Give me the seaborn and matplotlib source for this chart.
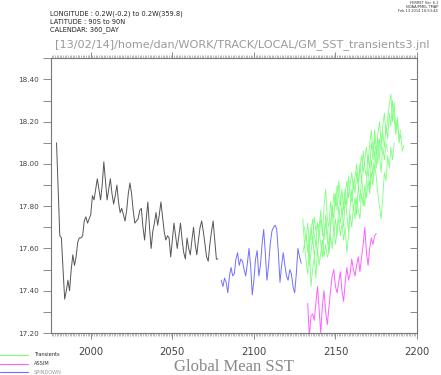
import numpy as np
import pandas as pd
import matplotlib
matplotlib.use("Agg")
import matplotlib.pyplot as plt
from matplotlib.ticker import MultipleLocator, FormatStrFormatter
import seaborn as sns

# ---------------- data ----------------
control_start = 1979
control_vals = [18.10, 17.88, 17.66, 17.65, 17.50, 17.36, 17.40, 17.45, 17.40, 17.50,
                17.57, 17.52, 17.56, 17.63, 17.65, 17.65, 17.66, 17.73, 17.75, 17.72,
                17.74, 17.76, 17.85, 17.83, 17.88, 17.93, 17.88, 17.83, 17.90, 18.01,
                17.92, 17.83, 17.88, 17.93, 17.86, 17.81, 17.85, 17.90, 17.82, 17.77,
                17.79, 17.76, 17.73, 17.78, 17.86, 17.91, 17.86, 17.78, 17.72, 17.73,
                17.74, 17.78, 17.79, 17.70, 17.64, 17.74, 17.82, 17.70, 17.60, 17.68,
                17.72, 17.77, 17.71, 17.76, 17.82, 17.75, 17.68, 17.64, 17.66, 17.65,
                17.56, 17.64, 17.72, 17.66, 17.60, 17.66, 17.72, 17.64, 17.58, 17.55,
                17.65, 17.60, 17.57, 17.64, 17.70, 17.62, 17.57, 17.64, 17.70, 17.73,
                17.68, 17.62, 17.56, 17.54, 17.62, 17.68, 17.73, 17.64, 17.55, 17.55]

spindown_start = 2080
spindown_vals = [17.45, 17.42, 17.46, 17.44, 17.39, 17.47, 17.51, 17.47, 17.48, 17.55,
                 17.58, 17.52, 17.55, 17.54, 17.50, 17.47, 17.53, 17.60, 17.52, 17.38,
                 17.45, 17.55, 17.59, 17.47, 17.52, 17.62, 17.69, 17.58, 17.45, 17.52,
                 17.62, 17.68, 17.70, 17.71, 17.69, 17.58, 17.44, 17.52, 17.58, 17.52,
                 17.47, 17.45, 17.50, 17.48, 17.42, 17.39, 17.48, 17.60, 17.56, 17.53]

assim_start = 2133
assim_vals = [17.34, 17.18, 17.28, 17.29, 17.26, 17.34, 17.42, 17.31, 17.20, 17.33,
              17.40, 17.30, 17.24, 17.32, 17.40, 17.47, 17.50, 17.42, 17.39, 17.44,
              17.49, 17.40, 17.35, 17.44, 17.51, 17.45, 17.48, 17.55, 17.50, 17.47,
              17.52, 17.56, 17.49, 17.56, 17.62, 17.70, 17.58, 17.52, 17.60, 17.65,
              17.62, 17.66, 17.67]

trans_a_start = 2130
trans_a_vals = [17.74, 17.62, 17.66, 17.58, 17.64, 17.70, 17.62, 17.75, 17.68, 17.72,
                17.70, 17.78, 17.66, 17.80, 17.88, 17.74, 17.70, 17.82, 17.76, 17.86,
                17.80, 17.90, 17.84, 17.80, 17.88, 17.78, 17.86, 17.92, 17.84, 17.90,
                17.96, 17.88, 17.94, 18.00, 17.90, 17.98, 18.04, 17.96, 18.02, 18.08,
                18.00, 18.10, 18.16, 18.06, 18.12, 18.04, 18.14, 18.20, 18.10, 18.18,
                18.24, 18.14, 18.22, 18.28, 18.33, 18.20, 18.29, 18.16, 18.22, 18.10,
                18.14, 18.06, 18.09]

trans_b_start = 2130
trans_b_vals = [17.58, 17.62, 17.54, 17.48, 17.60, 17.42, 17.50, 17.56, 17.46, 17.60,
                17.52, 17.58, 17.64, 17.56, 17.62, 17.56, 17.58, 17.66, 17.60, 17.70,
                17.62, 17.68, 17.74, 17.66, 17.72, 17.64, 17.70, 17.58, 17.66, 17.76,
                17.70, 17.80, 17.74, 17.84, 17.78, 17.74, 17.86, 17.80, 17.90, 17.84,
                17.92, 17.86, 17.96, 17.90, 18.00, 17.94, 17.86, 17.80, 17.74, 17.84,
                17.96, 17.92, 18.04, 17.98, 18.08, 18.02, 18.10]

trans_c_start = 2131
trans_c_vals = [17.70, 17.64, 17.72, 17.60, 17.68, 17.74, 17.66, 17.62, 17.72,
                17.66, 17.74, 17.70, 17.64, 17.76, 17.68, 17.60, 17.72, 17.80, 17.74,
                17.86, 17.78, 17.92, 17.84, 17.76, 17.82, 17.88, 17.80, 17.94, 17.86,
                17.82, 17.92, 17.86, 17.96, 17.90, 18.00, 17.92, 18.06, 17.98, 17.94,
                18.04, 17.98, 18.10, 18.02, 18.16, 18.08, 18.00, 18.12, 18.06, 18.15,
                18.08, 18.18, 18.12, 18.24, 18.18, 18.30, 18.22, 18.14, 18.20, 18.12,
                18.16]

trans_d_start = 2133
trans_d_vals = [17.62, 17.52, 17.58, 17.66, 17.56, 17.64, 17.58,
                17.68, 17.62, 17.56, 17.66, 17.72, 17.64, 17.58, 17.70, 17.78, 17.68,
                17.74, 17.66, 17.80, 17.72, 17.78, 17.70, 17.84, 17.76, 17.68, 17.80,
                17.88, 17.78, 17.84, 17.76, 17.90, 17.82, 17.94, 17.86, 17.80, 17.92,
                17.98, 17.88, 18.02, 17.94, 18.06, 17.98, 18.12, 18.04, 17.96, 18.08,
                18.02, 18.10, 18.06]

header_lines = ["LONGITUDE : 0.2W(-0.2) to 0.2W(359.8)",
                "LATITUDE : 90S to 90N",
                "CALENDAR: 360_DAY"]
path_title = "[13/02/14]/home/dan/WORK/TRACK/LOCAL/GM_SST_transients3.jnl"
ferret_lines = ["FERRET Ver. 6.1", "NOAA/PMEL TMAP", "Feb 13 2014 10:53:44"]
xlabel_text = "Global Mean SST"
legend_labels = ["Transients", "ASSIM", "SPINDOWN"]

# ---------------- build frame ----------------
def frame(start, vals, series, member):
    return pd.DataFrame({"year": np.arange(start, start + len(vals)),
                         "sst": vals, "series": series, "member": member})

df = pd.concat([
    frame(control_start, control_vals, "CONTROL", "c"),
    frame(spindown_start, spindown_vals, "SPINDOWN", "s"),
    frame(trans_a_start, trans_a_vals, "Transients", "a"),
    frame(trans_b_start, trans_b_vals, "Transients", "b"),
    frame(trans_c_start, trans_c_vals, "Transients", "c2"),
    frame(trans_d_start, trans_d_vals, "Transients", "d"),
    frame(assim_start, assim_vals, "ASSIM", "m"),
], ignore_index=True)

colors = {"CONTROL": "#555555", "SPINDOWN": "#7070ff",
          "Transients": "#7cff7c", "ASSIM": "#ff60ff"}

# ---------------- plot ----------------
sns.set_style("white")
fig = plt.figure(figsize=(4.41, 3.75), dpi=100)
ax = fig.add_axes([0.1156, 0.112, 0.830, 0.7325])

widths = {"CONTROL": 0.7, "SPINDOWN": 0.7, "Transients": 0.6, "ASSIM": 0.7}
for name in ["CONTROL", "SPINDOWN", "Transients", "ASSIM"]:
    sub = df[df["series"] == name]
    sns.lineplot(data=sub, x="year", y="sst", units="member", estimator=None,
                 color=colors[name], linewidth=widths[name], ax=ax, legend=False)

ax.set_xlim(1975.6, 2200)
ax.set_ylim(17.2, 18.5)
ax.set_xlabel("")
ax.set_ylabel("")

for sp in ax.spines.values():
    sp.set_color("#777777")
    sp.set_linewidth(0.8)

ax.xaxis.set_major_locator(MultipleLocator(50))
ax.xaxis.set_minor_locator(MultipleLocator(1))
ax.yaxis.set_major_locator(MultipleLocator(0.2))
ax.yaxis.set_minor_locator(MultipleLocator(0.1))
ax.yaxis.set_major_formatter(FormatStrFormatter("%.2f"))

ax.tick_params(axis="x", which="major", direction="out", length=4, width=0.6,
               color="#777777", labelsize=7.2, labelcolor="#444444",
               top=True, bottom=True, pad=6)
ax.tick_params(axis="x", which="minor", direction="out", length=2, width=0.4,
               color="#888888", top=True, bottom=True)
ax.tick_params(axis="y", which="both", direction="out", length=6, width=0.6,
               color="#777777", left=True, right=False)
ax.tick_params(axis="y", which="major", labelsize=5.2, labelcolor="#444444", pad=3)

# right-side inward ticks
ax2 = ax.twinx()
ax2.set_ylim(ax.get_ylim())
ax2.yaxis.set_major_locator(MultipleLocator(0.1))
ax2.tick_params(axis="y", direction="in", length=5, width=0.6, color="#777777",
                labelright=False)
for sp in ax2.spines.values():
    sp.set_visible(False)
ax2.grid(False)

# texts
for i, t in enumerate(header_lines):
    fig.text(50 / 441, 1 - (14 + 8 * i) / 375, t, fontsize=4.8, color="#222222",
             va="center", ha="left", family="DejaVu Sans")
fig.text(55 / 441, 1 - 45 / 375, path_title, fontsize=8.1, color="#9a9a9a",
         va="center", ha="left", family="DejaVu Sans")
for i, t in enumerate(ferret_lines):
    fig.text(438 / 441, 1 - (3 + 4 * i) / 375, t, fontsize=2.6, color="#333333",
             va="center", ha="right", family="DejaVu Sans")
fig.text(234 / 441, 1 - 367 / 375, xlabel_text, fontsize=12, color="#888888",
         va="center", ha="center", family="Liberation Serif")

# legend (drawn in figure coordinates)
leg_colors = [colors["Transients"], colors["ASSIM"], colors["SPINDOWN"]]
leg_text_colors = ["#222222", "#333333", "#999999"]
for i, (lab, c, tc) in enumerate(zip(legend_labels, leg_colors, leg_text_colors)):
    yy = 1 - (355 + 8.5 * i) / 375
    fig.add_artist(plt.Line2D([0, 28 / 441], [yy, yy], color=c, linewidth=0.8,
                              transform=fig.transFigure))
    fig.text(34 / 441, yy, lab, fontsize=3.6, color=tc, va="center", ha="left",
             family="DejaVu Sans")

fig.savefig("out.png", dpi=100)
